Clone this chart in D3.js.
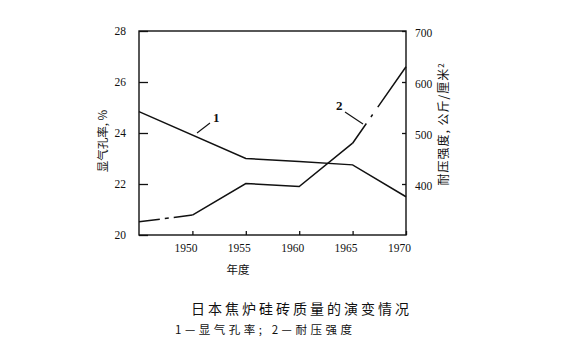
<!DOCTYPE html>
<html><head><meta charset="utf-8">
<script src="https://cdn.jsdelivr.net/npm/d3@7"></script>
<style>
body{margin:0;background:#fff;}
svg{display:block;}
.tk{font-family:"Liberation Serif","DejaVu Serif",serif;font-size:11.5px;fill:#111;}
.cjk{font-family:"Noto Sans CJK SC",sans-serif;fill:#111;}
</style></head><body>
<svg id="c" width="561" height="356"></svg>
<script>
const years = [1945, 1950, 1955, 1960, 1965, 1970];
const porosityYears = [1945, 1955, 1960, 1965, 1970];
const porosityVals = [24.84, 23.0, 22.88, 22.75, 21.5];
const strength = [326, 339, 401, 395, 480, 630];
const xTicks = [1950, 1955, 1960, 1965, 1970];
const leftTicks = [20, 22, 24, 26, 28];
const rightTicks = [400, 500, 600, 700];

const svg = d3.select("#c");
const L = 139, R = 406, T = 31, B = 235;
const x = d3.scaleLinear().domain([1945, 1970]).range([L, R]);
const yL = d3.scaleLinear().domain([20, 28]).range([B, T]);
const yR = d3.scaleLinear().domain([300, 700]).range([B, T]);

const g = svg.append("g").attr("stroke", "#111").attr("fill", "none").attr("stroke-width", 1.4);
g.append("rect").attr("x", L).attr("y", T).attr("width", R - L).attr("height", B - T);

const ax = svg.append("g").attr("transform", `translate(0,${B})`)
  .call(d3.axisBottom(x).tickValues(xTicks).tickSize(-4).tickPadding(9).tickFormat(d3.format("d")));
ax.select(".domain").remove();
ax.selectAll("text").attr("class", "tk").attr("dx", -7).style("font-size", "11.5px");
ax.selectAll("line").attr("stroke", "#111").attr("stroke-width", 1.3);

const al = svg.append("g").attr("transform", `translate(${L},0)`)
  .call(d3.axisLeft(yL).tickValues(leftTicks).tickSize(-9).tickPadding(13).tickFormat(d3.format("d")));
al.select(".domain").remove();
al.selectAll("text").attr("class", "tk").style("font-size", "11.5px");
al.selectAll("line").attr("stroke", "#111").attr("stroke-width", 1.3);

const ar = svg.append("g").attr("transform", `translate(${R},0)`)
  .call(d3.axisRight(yR).tickValues(rightTicks).tickSize(-4).tickPadding(9).tickFormat(d3.format("d")));
ar.select(".domain").remove();
ar.selectAll("text").attr("class", "tk").style("font-size", "11.5px").attr("dy", "0.5em");
ar.selectAll("line").attr("stroke", "#111").attr("stroke-width", 1.3);

const line1 = d3.line().x((d, i) => x(porosityYears[i])).y(d => yL(d));
svg.append("path").datum(porosityVals).attr("d", line1)
  .attr("fill", "none").attr("stroke", "#111").attr("stroke-width", 1.5);

const line2 = d3.line().x(d => x(d[0])).y(d => yR(d[1]));
const pts = years.map((y, i) => [y, strength[i]]);
svg.append("path").datum(pts.slice(0, 2)).attr("d", line2)
  .attr("fill", "none").attr("stroke", "#111").attr("stroke-width", 1.5)
  .attr("stroke-dasharray", "21,5,4,5,40");
svg.append("path").datum(pts.slice(1, 5)).attr("d", line2)
  .attr("fill", "none").attr("stroke", "#111").attr("stroke-width", 1.5);
svg.append("path").datum(pts.slice(4, 6)).attr("d", line2)
  .attr("fill", "none").attr("stroke", "#111").attr("stroke-width", 1.5)
  .attr("stroke-dasharray", "24,8,3,9,80");

svg.append("line").attr("x1", 197).attr("y1", 133).attr("x2", 210).attr("y2", 123)
  .attr("stroke", "#111").attr("stroke-width", 1.1);
svg.append("text").attr("class", "tk").attr("x", 213).attr("y", 122)
  .style("font-size", "13px").style("font-weight", "bold").text("1");
svg.append("line").attr("x1", 345).attr("y1", 112).attr("x2", 363).attr("y2", 124)
  .attr("stroke", "#111").attr("stroke-width", 1.1);
svg.append("text").attr("class", "tk").attr("x", 336).attr("y", 110)
  .style("font-size", "13px").style("font-weight", "bold").text("2");

svg.append("text").attr("class", "cjk").attr("transform", "translate(107,141) rotate(-90)")
  .attr("text-anchor", "middle").style("font-size", "11.5px").text("显气孔率, %");
svg.append("text").attr("class", "cjk").attr("transform", "translate(448,124) rotate(-90)")
  .attr("text-anchor", "middle").style("font-size", "12px").style("letter-spacing", "1px")
  .html('耐压强度, 公斤/厘米<tspan dy="-4" font-size="8">2</tspan>');
svg.append("text").attr("class", "cjk").attr("x", 238).attr("y", 274)
  .attr("text-anchor", "middle").style("font-size", "11.5px").text("年度");

svg.append("text").attr("class", "cjk").attr("x", 191).attr("y", 314)
  .style("font-size", "14px").attr("textLength", 218).attr("lengthAdjust", "spacing")
  .text("日本焦炉硅砖质量的演变情况");
svg.append("text").attr("class", "cjk").attr("x", 175).attr("y", 334)
  .style("font-size", "11.5px").attr("textLength", 177).attr("lengthAdjust", "spacing")
  .text("1—显气孔率; 2—耐压强度");
</script></body></html>
